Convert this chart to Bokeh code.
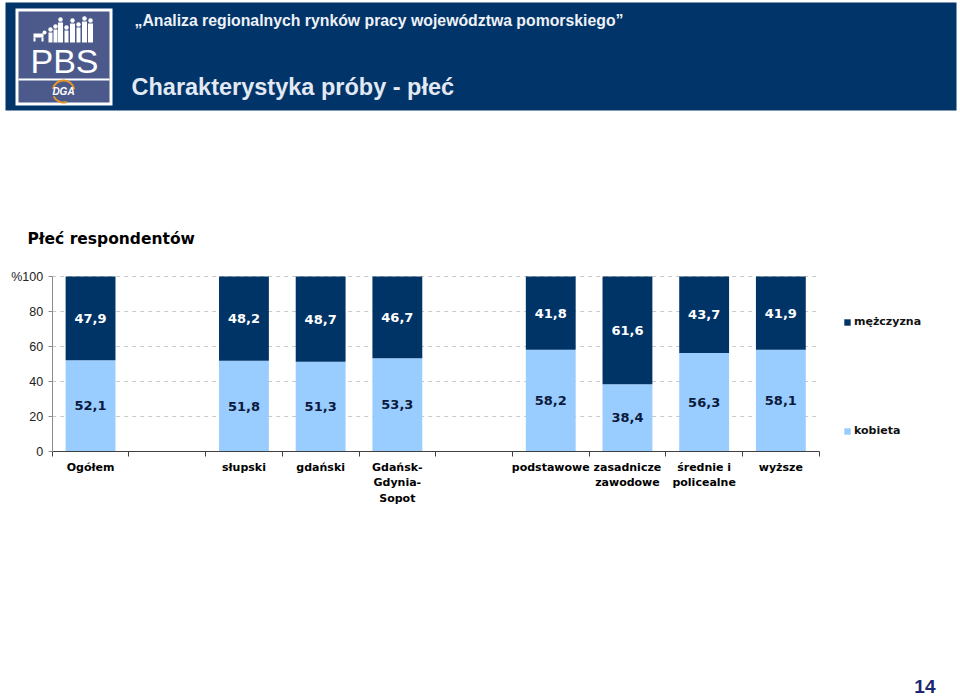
from bokeh.plotting import figure
from bokeh.models import (Range1d, FixedTicker, Legend, LegendItem, ColumnDataSource,
                          LinearAxis)
from bokeh.core.properties import value
from bokeh.embed import file_html
from bokeh.resources import INLINE

# ---------------- data ----------------
categories = ["Ogółem", "", "słupski", "gdański", "Gdańsk-\nGdynia-\nSopot", "",
              "podstawowe", "zasadnicze\nzawodowe", "średnie i\npolicealne", "wyższe"]
kobieta = [52.1, None, 51.8, 51.3, 53.3, None, 58.2, 38.4, 56.3, 58.1]
mezczyzna = [47.9, None, 48.2, 48.7, 46.7, None, 41.8, 61.6, 43.7, 41.9]
series_labels = ["mężczyzna", "kobieta"]
y_ticks = [0, 20, 40, 60, 80, 100]
y_tick_labels = ["0", "20", "40", "60", "80", "%100"]

# ---------------- style / layout ----------------
DARK = "#003366"
LIGHT = "#99ccff"
HEADER = "#013468"
LOGO = "#4b5a8b"
W, H = 960, 696
PX_L, PX_R = 51.7, 818.7       # plot area left/right (canvas px)
PX_T, PX_B = 276.0, 451.0      # plot area top/bottom (canvas px)
N = len(categories)
YMAX = 100.0

p = figure(width=W, height=H, output_backend="svg", toolbar_location=None,
           x_range=Range1d(0, W), y_range=Range1d(H, 0),
           x_axis_location=None, y_axis_location=None, min_border=0, title=None)
p.grid.visible = False
p.outline_line_color = None
p.background_fill_color = "white"
p.border_fill_color = "white"

# chart ranges positioned so that the plot area lands on PX_L..PX_R / PX_T..PX_B
ux = (PX_R - PX_L) / N
uy = (PX_B - PX_T) / YMAX
p.extra_x_ranges = {"cx": Range1d(-PX_L / ux, (W - PX_L) / ux)}
p.extra_y_ranges = {"cy": Range1d((PX_B - H) / uy, PX_B / uy)}
C = dict(x_range_name="cx", y_range_name="cy")


def txt(x, y, text, size, color, font="Liberation Sans", style="bold", align="left"):
    p.text(x=[x], y=[y], text=[text], text_font=value(font), text_font_style=style,
           text_font_size=size, text_color=color, text_align=align, text_baseline="middle")


def rect(l, r, t, b, color):
    p.quad(left=[l], right=[r], top=[t], bottom=[b], fill_color=color, line_color=None)


# ---------------- header ----------------
rect(5, 956, 2, 110, HEADER)
rect(15, 112, 8, 105, "white")
rect(18, 109, 11, 102, LOGO)
rect(18, 109, 78, 80, "white")
people = [(50, 27, 4), (55, 24, 4), (60, 17, 5), (66, 25, 4), (72, 18, 5),
          (78, 22, 4), (84, 16, 5), (90, 18, 5)]
for cx, t, w in people:
    p.ellipse(x=[cx], y=[t + 2], width=4.5, height=4.5, fill_color="white", line_color=None)
    rect(cx - w / 2, cx + w / 2, t + 5, 42, "white")
rect(33, 43, 33, 37, "white")
rect(33, 35, 37, 41, "white")
rect(41, 43, 37, 41, "white")
p.ellipse(x=[44], y=[32], width=4, height=4, fill_color="white", line_color=None)
txt(64, 60, "PBS", "34px", "white", style="normal", align="center")
p.annular_wedge(x=[63], y=[91], inner_radius=10, outer_radius=12, start_angle=0.2,
                end_angle=2.9, fill_color="#e8962a", line_color=None)
p.annular_wedge(x=[63], y=[91], inner_radius=10, outer_radius=12, start_angle=3.6,
                end_angle=5.0, fill_color="#e8962a", line_color=None)
txt(63, 91, "DGA", "10px", "white", style="bold italic", align="center")
txt(134, 20, "„Analiza regionalnych rynków pracy województwa pomorskiego”", "15.8px", "#eef1f7")
txt(131, 86, "Charakterystyka próby - płeć", "23.5px", "#e2e9f4")
txt(27, 238, "Płeć respondentów", "15.5px", "black", font="DejaVu Sans")
txt(935, 686, "14", "19px", "#1b2770", align="right")

# ---------------- chart ----------------
idx = [i for i, v in enumerate(kobieta) if v is not None]
xs = [i + 0.5 for i in idx]
k = [kobieta[i] for i in idx]
m = [mezczyzna[i] for i in idx]
fmt = lambda v: f"{v:.1f}".replace(".", ",")
src = ColumnDataSource(dict(
    x=xs, kobieta=k, mezczyzna=m,
    yk=[v / 2 for v in k], ym=[a + b / 2 for a, b in zip(k, m)],
    tk=[fmt(v) for v in k], tm=[fmt(v) for v in m]))

# dashed gridlines
gt = [t for t in y_ticks if t > 0]
p.segment(x0=[0] * len(gt), x1=[N] * len(gt), y0=gt, y1=gt, line_color="#c8c8c8",
          line_dash="4 4", line_width=1, **C)

rs = p.vbar_stack(["kobieta", "mezczyzna"], x="x", width=0.65, color=[LIGHT, DARK],
                  line_color=None, source=src, **C)

p.text(x="x", y="yk", text="tk", source=src, text_align="center", text_baseline="middle",
       text_font=value("DejaVu Sans"), text_font_style="bold", text_font_size="13px",
       text_color="#0b1a3c", **C)
p.text(x="x", y="ym", text="tm", source=src, text_align="center", text_baseline="middle",
       text_font=value("DejaVu Sans"), text_font_style="bold", text_font_size="13px",
       text_color="white", **C)

xa = LinearAxis(fixed_location=0, bounds=(0, N), **C)
xa.ticker = FixedTicker(ticks=[i + 0.5 for i in range(N)], minor_ticks=list(range(N + 1)))
xa.major_label_overrides = {i + 0.5: c for i, c in enumerate(categories)}
xa.axis_line_color = "#404040"
xa.major_tick_in = 0
xa.major_tick_out = 0
xa.minor_tick_in = 0
xa.minor_tick_out = 5
xa.minor_tick_line_color = "#404040"
xa.major_label_standoff = 4
xa.major_label_text_font = "DejaVu Sans"
xa.major_label_text_font_style = "bold"
xa.major_label_text_font_size = "11px"
xa.major_label_text_color = "black"
p.add_layout(xa, "below")

ya = LinearAxis(fixed_location=0, bounds=(0, YMAX), **C)
ya.ticker = FixedTicker(ticks=y_ticks, minor_ticks=[])
ya.major_label_overrides = {t: s for t, s in zip(y_ticks, y_tick_labels)}
ya.axis_line_color = "#8c8c8c"
ya.major_tick_line_color = "#8c8c8c"
ya.major_tick_in = 0
ya.major_tick_out = 4
ya.major_label_standoff = 5
ya.major_label_text_font = "Liberation Sans"
ya.major_label_text_font_size = "12.5px"
ya.major_label_text_color = "#222222"
p.add_layout(ya, "left")

legend = Legend(items=[LegendItem(label=series_labels[0], renderers=[rs[1]]),
                       LegendItem(label=series_labels[1], renderers=[rs[0]])],
                location=(843, 259), orientation="vertical", spacing=96,
                padding=0, margin=0, glyph_width=8, glyph_height=8, label_standoff=3,
                label_height=12, border_line_color=None, background_fill_alpha=0,
                label_text_font="DejaVu Sans", label_text_font_style="bold",
                label_text_font_size="11px", label_text_color="#111111")
p.add_layout(legend)

open("out.html", "w").write(file_html(p, INLINE))
